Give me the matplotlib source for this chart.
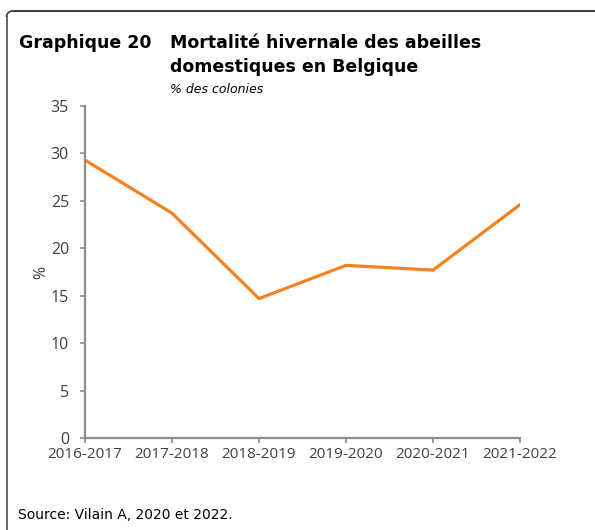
import matplotlib
matplotlib.use("Agg")
import matplotlib.pyplot as plt
from matplotlib.lines import Line2D
from matplotlib.patches import Arc

seasons = ["2016-2017", "2017-2018", "2018-2019", "2019-2020", "2020-2021", "2021-2022"]
mortality = [29.3, 23.7, 14.7, 18.2, 17.7, 24.6]
yticks = [0, 5, 10, 15, 20, 25, 30, 35]

W, H = 595, 530
fig = plt.figure(figsize=(W / 100, H / 100), dpi=100)

# axes box in pixel coordinates
left, right, top, bottom = 85, 520, 106, 438
ax = fig.add_axes([left / W, 1 - bottom / H, (right - left) / W, (bottom - top) / H])

x = list(range(len(seasons)))
ax.plot(x, mortality, color="#F5821F", lw=2.3, solid_capstyle="round", solid_joinstyle="miter")

ax.set_xlim(0, len(seasons) - 1)
ax.set_ylim(0, 35)
ax.set_yticks(yticks)
ax.set_xticks(x)
ax.set_xticklabels(seasons)

axis_col = "#8C8C8C"
text_col = "#404040"
for s in ["top", "right"]:
    ax.spines[s].set_visible(False)
for s in ["left", "bottom"]:
    ax.spines[s].set_color(axis_col)
    ax.spines[s].set_linewidth(1.6)
ax.tick_params(axis="both", colors=axis_col, width=1.2, length=3.5, labelcolor=text_col)
ax.tick_params(axis="y", labelsize=11.5, pad=8)
ax.tick_params(axis="x", labelsize=11, pad=3)
for lab in ax.get_xticklabels() + ax.get_yticklabels():
    lab.set_family("Open Sans")
ax.set_ylabel("%", fontsize=11.5, color=text_col, family="Open Sans")
ax.yaxis.set_label_coords((49 - left) / (right - left), (bottom - 272) / (bottom - top))
ax.patch.set_alpha(0)

# frame: left rule and top rule joined by a small rounded corner
frame_col = "#3C3C3C"
r = 6
fig.add_artist(Line2D([6.5 / W, 6.5 / W], [0, 1 - (11 + r) / H], color=frame_col, lw=1.1))
fig.add_artist(Line2D([(6.5 + r) / W, 1], [1 - 11 / H, 1 - 11 / H], color=frame_col, lw=1.4))
fig.add_artist(Arc((6.5 + r, H - 11 - r), 2 * r, 2 * r, theta1=90, theta2=180,
                   transform=None, color=frame_col, lw=1.2))

fig.text(19 / W, 1 - 48 / H, "Graphique 20", fontsize=12.5, fontweight="bold",
         color="#000000", family="DejaVu Sans", va="baseline")
fig.text(170 / W, 1 - 48 / H, "Mortalité hivernale des abeilles", fontsize=12.5,
         fontweight="bold", color="#000000", family="DejaVu Sans", va="baseline")
fig.text(170 / W, 1 - 72.5 / H, "domestiques en Belgique", fontsize=12.5,
         fontweight="bold", color="#000000", family="DejaVu Sans", va="baseline")
fig.text(170 / W, 1 - 93 / H, "% des colonies", fontsize=9, style="italic",
         color="#000000", family="DejaVu Sans", va="baseline")
fig.text(18 / W, 1 - 519 / H, "Source: Vilain A, 2020 et 2022.", fontsize=10,
         color="#000000", family="DejaVu Sans", va="baseline")

fig.savefig("out.png", dpi=100)
